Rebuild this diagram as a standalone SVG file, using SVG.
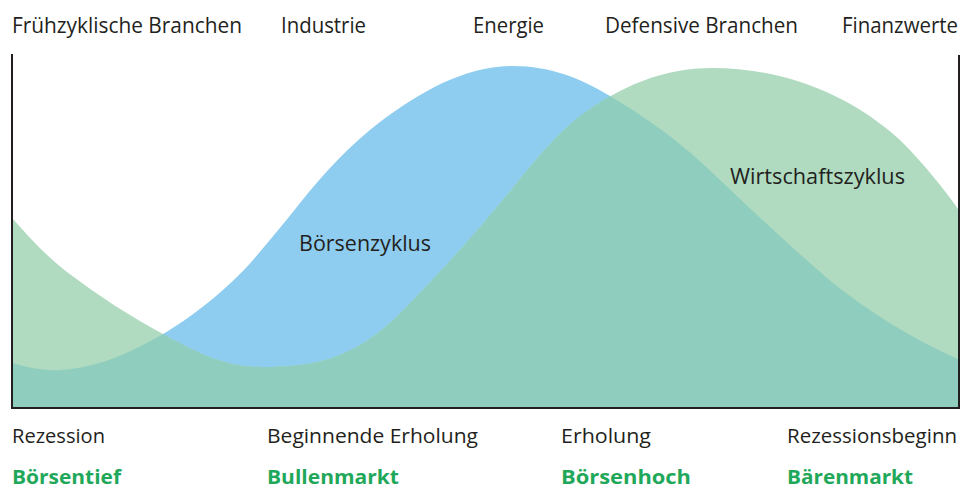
<svg xmlns="http://www.w3.org/2000/svg" width="965" height="490" viewBox="0 0 965 490">
  <style>
    .lbl { font-family: "Open Sans", "Liberation Sans", sans-serif; font-size: 21px; fill: #231f20; }
    .phase { font-family: "Open Sans", "Liberation Sans", sans-serif; font-size: 20px; fill: #231f20; }
    .market { font-family: "Open Sans", "Liberation Sans", sans-serif; font-size: 19px; font-weight: bold; fill: #1fa85a; }
    .axis { stroke: #231f20; stroke-width: 2; fill: none; }
  </style>
  <defs>
    <!-- stock market cycle area -->
    <path id="boerse" d="M12,363 C30,368 45,371 60,370 C100,368 135,350 163,334 C190,318 225,292 253,260 C270,240 285,222 300,203 C325,172 350,145 380,122 C420,92 465,66 513,66 C550,66 580,78 610,96 C640,114 680,140 720,180 C760,218 800,255 833,283 C870,312 910,338 960,360 L960,408 L12,408 Z"/>
    <!-- business cycle area -->
    <path id="wirtschaft" d="M12,218 C30,238 45,255 67,272 C100,297 130,316 163,334 C195,352 225,367 260,367 C290,367 315,365 340,355 C370,343 395,320 413,300 C440,272 470,240 497,207 C520,180 545,145 575,120 C620,85 665,68 712,68 C785,68 850,95 900,140 C925,165 945,190 960,212 L960,408 L12,408 Z"/>
    <clipPath id="clipBoerse">
      <use href="#boerse"/>
    </clipPath>
  </defs>

  <g id="areas">
    <use href="#boerse" fill="#8ecdef"/>
    <use href="#wirtschaft" fill="#b0dbc0"/>
    <use href="#wirtschaft" fill="#8fcebe" clip-path="url(#clipBoerse)"/>
  </g>

  <g id="axes">
    <line class="axis" x1="12" y1="54" x2="12" y2="409"/>
    <line class="axis" x1="959" y1="55" x2="959" y2="409"/>
    <line class="axis" x1="11" y1="408" x2="960" y2="408"/>
  </g>

  <g id="sectors">
    <text class="lbl" x="12" y="33" textLength="230" lengthAdjust="spacingAndGlyphs">Frühzyklische Branchen</text>
    <text class="lbl" x="281" y="33" textLength="85" lengthAdjust="spacingAndGlyphs">Industrie</text>
    <text class="lbl" x="473" y="33" textLength="71" lengthAdjust="spacingAndGlyphs">Energie</text>
    <text class="lbl" x="605" y="33" textLength="193" lengthAdjust="spacingAndGlyphs">Defensive Branchen</text>
    <text class="lbl" x="842" y="33" textLength="116" lengthAdjust="spacingAndGlyphs">Finanzwerte</text>
  </g>

  <g id="curve-labels">
    <text class="lbl" x="299" y="251" textLength="132" lengthAdjust="spacingAndGlyphs">Börsenzyklus</text>
    <text class="lbl" x="730" y="184" textLength="175" lengthAdjust="spacingAndGlyphs">Wirtschaftszyklus</text>
  </g>

  <g id="phases">
    <text class="phase" x="12" y="443" textLength="93" lengthAdjust="spacingAndGlyphs">Rezession</text>
    <text class="phase" x="267" y="443" textLength="211" lengthAdjust="spacingAndGlyphs">Beginnende Erholung</text>
    <text class="phase" x="561" y="443" textLength="90" lengthAdjust="spacingAndGlyphs">Erholung</text>
    <text class="phase" x="787" y="443" textLength="170" lengthAdjust="spacingAndGlyphs">Rezessionsbeginn</text>
  </g>

  <g id="markets">
    <text class="market" x="12" y="484" textLength="109" lengthAdjust="spacingAndGlyphs">Börsentief</text>
    <text class="market" x="267" y="484" textLength="132" lengthAdjust="spacingAndGlyphs">Bullenmarkt</text>
    <text class="market" x="561" y="484" textLength="130" lengthAdjust="spacingAndGlyphs">Börsenhoch</text>
    <text class="market" x="787" y="484" textLength="126" lengthAdjust="spacingAndGlyphs">Bärenmarkt</text>
  </g>
</svg>
